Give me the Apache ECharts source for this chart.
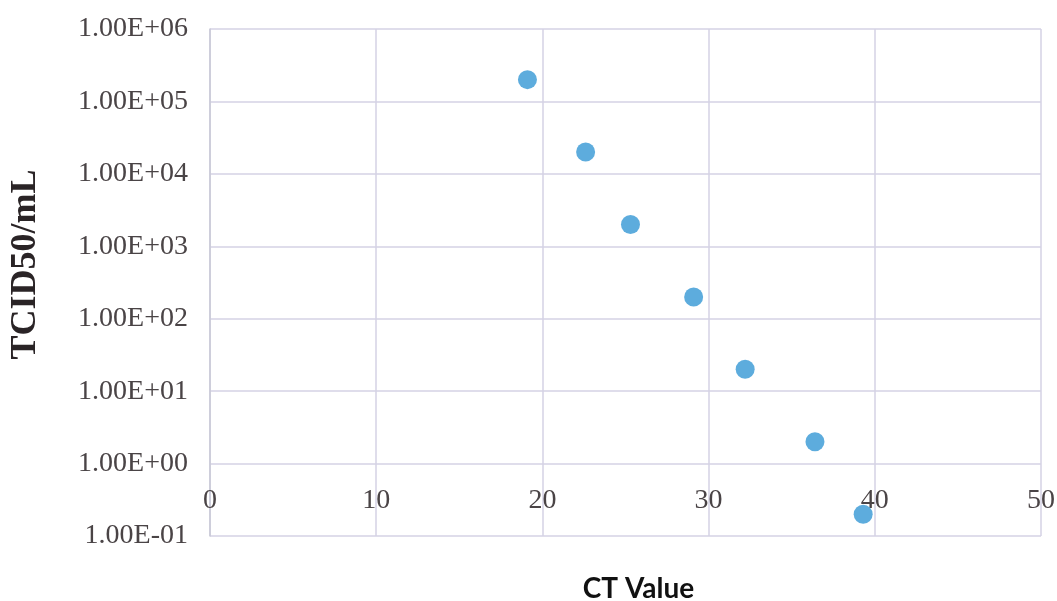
<!DOCTYPE html>
<html>
<head>
<meta charset="utf-8">
<script src="https://cdn.jsdelivr.net/npm/echarts@6/dist/echarts.min.js"></script>
<style>
  html, body { margin: 0; padding: 0; background: #fff; }
  #chart { width: 1057px; height: 601px; }
</style>
</head>
<body>
<div id="chart"></div>
<script>
// CT value vs titre
const ctValues = [19.1, 22.6, 25.3, 29.1, 32.2, 36.4, 39.3];
const tcidValues = [2e5, 2e4, 2e3, 2e2, 2e1, 2, 0.2];
const xTicks = [0, 10, 20, 30, 40, 50];
const yTickLabels = ['1.00E-01', '1.00E+00', '1.00E+01', '1.00E+02', '1.00E+03', '1.00E+04', '1.00E+05', '1.00E+06'];

const points = ctValues.map((x, i) => [x, tcidValues[i]]);
const gridColor = '#d4d2e4';

let chart = echarts.init(document.getElementById('chart'));
chart.setOption({
  backgroundColor: '#fff',
  animation: false,
  grid: { left: 210, right: 16, top: 29, bottom: 65, outerBoundsMode: 'none' },
  xAxis: {
    type: 'value',
    min: xTicks[0],
    max: xTicks[xTicks.length - 1],
    interval: 10,
    position: 'bottom',
    offset: -73,
    axisLine: { show: false },
    axisTick: { show: false },
    axisLabel: {
      margin: 24,
      fontFamily: 'Liberation Serif',
      fontSize: 28,
      color: '#4a4446'
    },
    splitLine: { show: true, lineStyle: { color: gridColor, width: 1.5 } },
    name: 'CT Value',
    nameLocation: 'middle',
    nameGap: 112,
    nameTextStyle: {
      fontFamily: 'Lato',
      fontWeight: 'bold',
      fontSize: 28,
      color: '#111',
      padding: [0, 0, 0, 26]
    }
  },
  yAxis: {
    type: 'log',
    logBase: 10,
    min: 0.1,
    max: 1e6,
    axisLine: { show: true, lineStyle: { color: '#c9c8d6', width: 1.5 } },
    axisTick: { show: false },
    axisLabel: {
      margin: 22,
      fontFamily: 'Liberation Serif',
      fontSize: 28,
      color: '#4a4446',
      formatter: function (v) {
        return yTickLabels[Math.round(Math.log10(v)) + 1];
      }
    },
    splitLine: { show: true, lineStyle: { color: gridColor, width: 1.5 } },
    name: 'TCID50/mL',
    nameLocation: 'middle',
    nameRotate: 90,
    nameGap: 166,
    nameTextStyle: {
      fontFamily: 'Liberation Serif',
      fontWeight: 'bold',
      fontSize: 36,
      color: '#2a2426',
      padding: [0, 0, 0, 36]
    }
  },
  series: [
    {
      type: 'scatter',
      data: points,
      symbol: 'circle',
      symbolSize: 19,
      itemStyle: { color: '#3597d4' }
    }
  ]
});
</script>
</body>
</html>
